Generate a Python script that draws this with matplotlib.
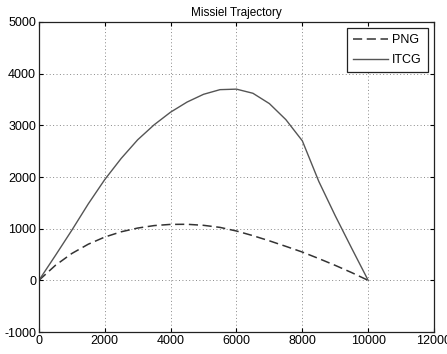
import matplotlib
matplotlib.use('Agg')
import matplotlib.pyplot as plt

# values
x_itcg = [0, 500, 1000, 1500, 2000, 2500, 3000, 3500, 4000, 4500, 5000,
          5500, 6000, 6500, 7000, 7500, 8000, 8500, 9000, 9500, 10000]
y_itcg = [0, 480, 970, 1480, 1950, 2360, 2720, 3010, 3255, 3450, 3600,
          3690, 3700, 3620, 3420, 3110, 2700, 1915, 1250, 620, 0]
x_png = [0, 500, 1000, 1500, 2000, 2500, 3000, 3500, 4000, 4500, 5000,
         5500, 6000, 6500, 7000, 7500, 8000, 8500, 9000, 9500, 10000]
y_png = [0, 290, 520, 700, 838, 940, 1012, 1060, 1083, 1085, 1065,
         1025, 955, 865, 765, 658, 548, 422, 290, 150, 0]
xticks = [0, 2000, 4000, 6000, 8000, 10000, 12000]
yticks = [-1000, 0, 1000, 2000, 3000, 4000, 5000]

plt.rcParams['font.family'] = ['Liberation Sans', 'DejaVu Sans']
plt.rcParams['font.size'] = 9
plt.rcParams['axes.unicode_minus'] = False

fig = plt.figure(figsize=(4.47, 3.54), dpi=100)
ax = fig.add_axes([0.087, 0.062, 0.884, 0.876])
ax.plot(x_png, y_png, color='#333333', lw=1.1, ls=(0, (6, 3)), label='PNG')
ax.plot(x_itcg, y_itcg, color='#555555', lw=1.0, label='ITCG')
ax.set_xlim(0, 12000)
ax.set_ylim(-1000, 5000)
ax.set_xticks(xticks)
ax.set_yticks(yticks)
ax.tick_params(direction='in', top=True, right=True, length=3, pad=2)
ax.grid(True, ls=(0, (1, 2.5)), color='#888888', lw=0.7)
for s in ax.spines.values():
    s.set_color('#222222')
    s.set_linewidth(0.9)
ax.set_title('Missiel Trajectory', fontsize=8.5, pad=4)
leg = ax.legend(loc='upper right', fancybox=False, edgecolor='#222222',
                framealpha=1, handlelength=2.8, handletextpad=0.3,
                borderpad=0.5, labelspacing=0.6, borderaxespad=0.5)
leg.get_frame().set_linewidth(0.9)
fig.savefig('out.png', dpi=100)
